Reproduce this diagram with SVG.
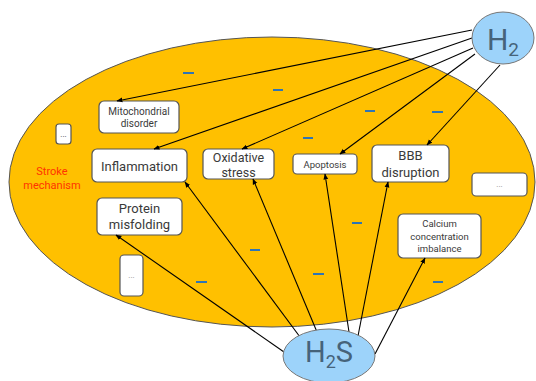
<svg xmlns="http://www.w3.org/2000/svg" width="536" height="381" viewBox="0 0 536 381">
<defs>
<marker id="ah" viewBox="0 0 10 10" refX="9" refY="5" markerWidth="6" markerHeight="6" orient="auto" markerUnits="userSpaceOnUse">
<path d="M0,1 L10,5 L0,9 Z" fill="#000"/>
</marker>
<style>
.box{fill:#fff;stroke:#555;stroke-width:1.2}
.t{font-family:Roboto,"Liberation Sans",sans-serif;fill:#3a3a3a;text-anchor:middle}
.c{stroke:#000;stroke-width:1.1;fill:none;marker-end:url(#ah)}
.d{stroke:#2e75b6;stroke-width:2}
.mol{fill:#9dd3fa;stroke:#777;stroke-width:1}
.mt{font-family:Roboto,"Liberation Sans",sans-serif;fill:#46637a;text-anchor:middle}
</style>
</defs>
<rect width="536" height="381" fill="#fff"/>
<g id="stroke-mechanism">
<ellipse cx="272" cy="182" rx="263" ry="145" fill="#ffc000" stroke="#555" stroke-width="1"/>
<text class="t" x="52" y="175" font-size="11" style="fill:#ff3300">Stroke</text>
<text class="t" x="52" y="189" font-size="11" style="fill:#ff3300">mechanism</text>
</g>
<g id="dashes">
<line class="d" x1="183" y1="73" x2="194" y2="73"/>
<line class="d" x1="273" y1="90" x2="283" y2="90"/>
<line class="d" x1="365" y1="111" x2="375" y2="111"/>
<line class="d" x1="432" y1="112" x2="443" y2="112"/>
<line class="d" x1="303" y1="138" x2="313" y2="138"/>
<line class="d" x1="250" y1="250" x2="260" y2="250"/>
<line class="d" x1="196" y1="282" x2="207" y2="282"/>
<line class="d" x1="352" y1="223" x2="362" y2="223"/>
<line class="d" x1="313" y1="274" x2="324" y2="274"/>
<line class="d" x1="433" y1="282" x2="443" y2="282"/>
</g>
<g id="mito"><rect class="box" x="99" y="101" width="80" height="32" rx="5"/><text class="t" x="139" y="115" font-size="10">Mitochondrial</text><text class="t" x="139" y="127" font-size="10">disorder</text></g>
<g id="inflammation"><rect class="box" x="92" y="149" width="95" height="33" rx="5"/><text class="t" x="139.5" y="171" font-size="13">Inflammation</text></g>
<g id="oxidative"><rect class="box" x="203" y="149" width="71" height="30" rx="5"/><text class="t" x="238.5" y="162" font-size="12.5">Oxidative</text><text class="t" x="238.5" y="177" font-size="12.5">stress</text></g>
<g id="protein"><rect class="box" x="97" y="198" width="85" height="37" rx="5"/><text class="t" x="139.5" y="213" font-size="13">Protein</text><text class="t" x="139.5" y="229" font-size="13">misfolding</text></g>
<g id="dots1"><rect class="box" x="56" y="124" width="15" height="20" rx="3"/><text class="t" x="63.5" y="137" font-size="8">...</text></g>
<g id="dots2"><rect class="box" x="120" y="255" width="23" height="41" rx="4"/><text class="t" x="131.5" y="278" font-size="8" style="fill:#888">...</text></g>
<g id="apoptosis"><rect class="box" x="293" y="154" width="64" height="20" rx="4"/><text class="t" x="325" y="168" font-size="9.5">Apoptosis</text></g>
<g id="bbb"><rect class="box" x="372" y="145" width="77" height="37" rx="5"/><text class="t" x="410.5" y="160" font-size="13">BBB</text><text class="t" x="410.5" y="177" font-size="13">disruption</text></g>
<g id="calcium"><rect class="box" x="398" y="214" width="83" height="44" rx="5"/><text class="t" x="439.5" y="227" font-size="9.5">Calcium</text><text class="t" x="439.5" y="240" font-size="9.5">concentration</text><text class="t" x="439.5" y="252" font-size="9.5">imbalance</text></g>
<g id="dots3"><rect class="box" x="472" y="173" width="55" height="23" rx="4"/><text class="t" x="499.5" y="187" font-size="8" style="fill:#888">...</text></g>
<g id="connectors">
<line class="c" x1="472" y1="30" x2="117" y2="101"/>
<line class="c" x1="472" y1="38" x2="154" y2="149"/>
<line class="c" x1="473" y1="48" x2="242" y2="149"/>
<line class="c" x1="475" y1="54" x2="340" y2="154"/>
<line class="c" x1="500" y1="65" x2="427" y2="145"/>
<line class="c" x1="284" y1="352" x2="116" y2="235"/>
<line class="c" x1="300" y1="337" x2="185" y2="182"/>
<line class="c" x1="317" y1="332" x2="253" y2="179"/>
<line class="c" x1="349" y1="332" x2="325" y2="174"/>
<line class="c" x1="358" y1="336" x2="388" y2="182"/>
<line class="c" x1="375" y1="354" x2="425" y2="258"/>
</g>
<g id="h2"><ellipse class="mol" cx="503" cy="38" rx="31" ry="26"/><text class="mt" x="503" y="50" font-size="30">H<tspan font-size="19" dy="6">2</tspan></text></g>
<g id="h2s"><ellipse class="mol" cx="329" cy="356" rx="46" ry="27"/><text class="mt" x="329" y="362" font-size="29">H<tspan font-size="18" dy="6">2</tspan><tspan dy="-6">S</tspan></text></g>
</svg>
